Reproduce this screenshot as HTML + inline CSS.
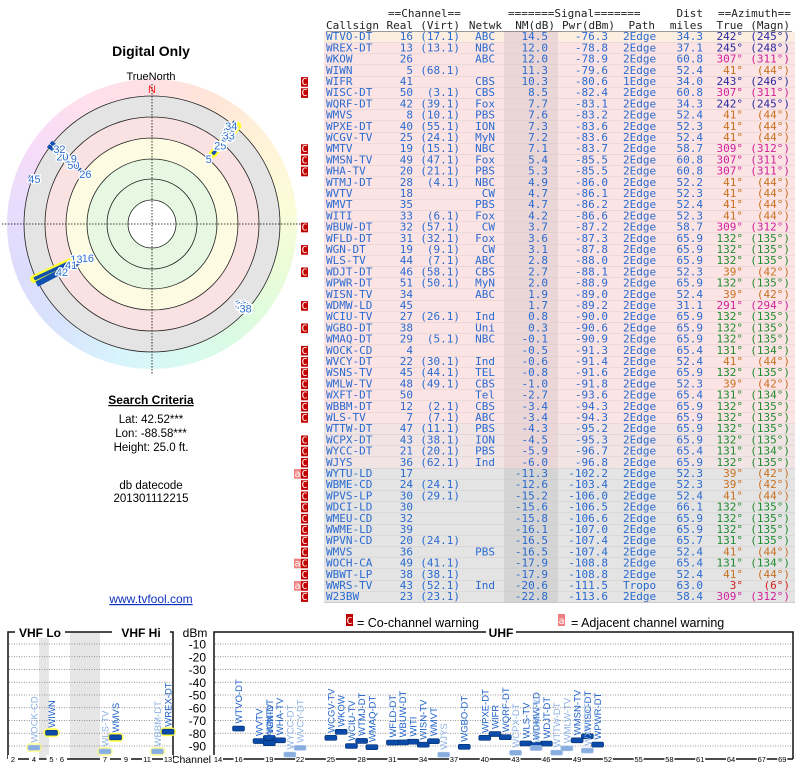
<!DOCTYPE html>
<html><head><meta charset="utf-8">
<style>
body{margin:0;background:#fff;width:800px;height:768px;overflow:hidden;position:relative;font-family:"Liberation Sans",sans-serif}
#wheel{position:absolute;left:7px;top:79px;width:290px;height:290px;border-radius:50%;
background:conic-gradient(from 0deg,#ffe0e4,#ffe6d8,#fff4d8,#fbfcd8,#eafcd8,#dcfbe0,#d8faf0,#d8f4fc,#d8e4fc,#dcdcfc,#e8dcfc,#f8dcf8,#ffe0ec,#ffe0e4)}
svg{position:absolute;left:0;top:0}
</style></head><body>
<div id="wheel"></div>
<svg id="s" width="800" height="768" font-family="Liberation Sans, sans-serif">
<g id="left">
<text x="151" y="56" text-anchor="middle" font-size="14" font-weight="bold">Digital Only</text>
<text x="151" y="80" text-anchor="middle" font-size="11">TrueNorth</text>
<text x="151" y="404" text-anchor="middle" font-size="12" font-weight="bold" text-decoration="underline">Search Criteria</text>
<text x="151" y="423" text-anchor="middle" font-size="11.5">Lat: 42.52***</text>
<text x="151" y="437" text-anchor="middle" font-size="11.5">Lon: -88.58***</text>
<text x="151" y="451" text-anchor="middle" font-size="11.5">Height: 25.0 ft.</text>
<text x="151" y="489" text-anchor="middle" font-size="11.5">db datecode</text>
<text x="151" y="502" text-anchor="middle" font-size="11.5">201301112215</text>
<text x="151" y="603" text-anchor="middle" font-size="12" fill="#1030c0" text-decoration="underline">www.tvfool.com</text>
</g>
<g id="radar"></g>
<g id="table" font-family="DejaVu Sans Mono, Liberation Mono, monospace" font-size="11"></g>
<g id="spec"></g>
</svg>
<script>
const calls=["WTVO-DT","WREX-DT","WKOW","WIWN","WIFR","WISC-DT","WQRF-DT","WMVS","WPXE-DT","WCGV-TV","WMTV","WMSN-TV","WHA-TV","WTMJ-DT","WVTV","WMVT","WITI","WBUW-DT","WFLD-DT","WGN-DT","WLS-TV","WDJT-DT","WPWR-DT","WISN-TV","WDMW-LD","WCIU-TV","WGBO-DT","WMAQ-DT","WOCK-CD","WVCY-DT","WSNS-TV","WMLW-TV","WXFT-DT","WBBM-DT","WLS-TV","WTTW-DT","WCPX-DT","WYCC-DT","WJYS","WYTU-LD","WBME-CD","WPVS-LP","WDCI-LD","WMEU-CD","WWME-LD","WPVN-CD","WMVS","WOCH-CA","WBWT-LP","WWRS-TV","W23BW"];
const realCh=[16,13,26,5,41,50,42,8,40,25,19,49,20,28,18,35,33,32,31,19,44,46,51,34,45,27,38,29,4,22,45,48,50,12,7,47,43,21,36,17,24,30,30,32,39,20,36,49,38,43,23];
const virt=["17.1","13.1","","68.1","","3.1","39.1","10.1","55.1","24.1","15.1","47.1","21.1","4.1","","","6.1","57.1","32.1","9.1","7.1","58.1","50.1","","","26.1","","5.1","","30.1","44.1","49.1","","2.1","7.1","11.1","38.1","20.1","62.1","","24.1","29.1","","","","24.1","","41.1","38.1","52.1","23.1"];
const netwk=["ABC","NBC","ABC","","CBS","CBS","Fox","PBS","ION","MyN","NBC","Fox","PBS","NBC","CW","PBS","Fox","CW","Fox","CW","ABC","CBS","MyN","ABC","","Ind","Uni","NBC","","Ind","TEL","CBS","Tel","CBS","ABC","PBS","ION","PBS","Ind","","","","","","","","PBS","","","Ind",""];
const nm=[14.5,12.0,12.0,11.3,10.3,8.5,7.7,7.6,7.3,7.2,7.1,5.4,5.3,4.9,4.7,4.7,4.2,3.7,3.6,3.1,2.8,2.7,2.0,1.9,1.7,0.8,0.3,-0.1,-0.5,-0.6,-0.8,-1.0,-2.7,-3.4,-3.4,-4.3,-4.5,-5.9,-6.0,-11.3,-12.6,-15.2,-15.6,-15.8,-16.1,-16.5,-16.5,-17.9,-17.9,-20.6,-22.8];
const pwr=[-76.3,-78.8,-78.9,-79.6,-80.6,-82.4,-83.1,-83.2,-83.6,-83.6,-83.7,-85.5,-85.5,-86.0,-86.1,-86.2,-86.6,-87.2,-87.3,-87.8,-88.0,-88.1,-88.9,-89.0,-89.2,-90.0,-90.6,-90.9,-91.3,-91.4,-91.6,-91.8,-93.6,-94.3,-94.3,-95.2,-95.3,-96.7,-96.8,-102.2,-103.4,-106.0,-106.5,-106.6,-107.0,-107.4,-107.4,-108.8,-108.8,-111.5,-113.6];
const pathT=["2Edge","2Edge","2Edge","2Edge","1Edge","2Edge","2Edge","2Edge","2Edge","2Edge","2Edge","2Edge","2Edge","2Edge","2Edge","2Edge","2Edge","2Edge","2Edge","2Edge","2Edge","2Edge","2Edge","2Edge","2Edge","2Edge","2Edge","2Edge","2Edge","2Edge","2Edge","2Edge","2Edge","2Edge","2Edge","2Edge","2Edge","2Edge","2Edge","2Edge","2Edge","2Edge","2Edge","2Edge","2Edge","2Edge","2Edge","2Edge","2Edge","Tropo","2Edge"];
const dist=[34.3,37.1,60.8,52.4,34.0,60.8,34.3,52.4,52.3,52.4,58.7,60.8,60.8,52.2,52.3,52.4,52.3,58.7,65.9,65.9,65.9,52.3,65.9,52.4,31.1,65.9,65.9,65.9,65.4,52.4,65.9,52.3,65.4,65.9,65.9,65.9,65.9,65.4,65.9,52.3,52.3,52.4,66.1,65.9,65.9,65.7,52.4,65.4,52.4,63.0,58.4];
const azTrue=[242,245,307,41,243,307,242,41,41,41,309,307,307,41,41,41,41,309,132,132,132,39,132,39,291,132,132,132,131,41,132,39,131,132,132,132,132,131,132,39,39,41,132,132,132,131,41,131,41,3,309];
const azMagn=[245,248,311,44,246,311,245,44,44,44,312,311,311,44,44,44,44,312,135,135,135,42,135,42,294,135,135,135,134,44,135,42,134,135,135,135,135,134,135,42,42,44,135,135,135,135,44,134,44,6,312];
const warn=["","","","","C","C","","","","","C","C","C","","","","","C","","C","","C","","","C","","C","","C","C","C","C","C","C","C","","C","C","C","aC","C","C","C","C","C","C","C","aC","C","aC","C"];
const dbTicks=[-10,-20,-30,-40,-50,-60,-70,-80,-90];
const vhfTicks=[2,4,5,6,7,9,11,13];
const uhfTicks=[14,16,19,22,25,28,31,34,37,40,43,46,49,52,55,58,61,64,67,69];

const NS="http://www.w3.org/2000/svg";
function mk(parent,tag,attrs,txt){const e=document.createElementNS(NS,tag);for(const k in attrs)e.setAttribute(k,attrs[k]);if(txt!==undefined)e.textContent=txt;parent.appendChild(e);return e;}
function azColor(a){if(a<20)return"#d02020";if(a<90)return"#c87020";if(a<200)return"#208a30";if(a<280)return"#2a2aa0";return"#d0209a";}

// ---------- radar ----------
const R=document.getElementById('radar');const cx=152,cy=224;
[[128,"#e4e4e4"],[107,"#fbe2e2"],[86,"#fdfbe2"],[65,"#e6f8e2"],[45,"#e6f8e2"],[24,"#ffffff"]].forEach(([r,f])=>{
 const c=mk(R,'circle',{cx:cx,cy:cy,r:r,fill:f,stroke:"#222","stroke-width":0.8});
 
 
});
const h1=mk(R,'line',{x1:cx-150,y1:cy,x2:cx+150,y2:cy,stroke:"#000","stroke-width":0.8,"stroke-dasharray":"1.5,1.5"});


const v1=mk(R,'line',{x1:cx,y1:cy-140,x2:cx,y2:cy+150,stroke:"#000","stroke-width":0.8,"stroke-dasharray":"1.5,1.5"});


const nl=mk(R,'text',{x:cx,y:cy-131,"text-anchor":"middle","font-size":11,fill:"#ff2020"},"N");


function rad(v){return Math.max(72,Math.min(126,135-4.3*v));}
function pt(a,r){const t=a*Math.PI/180;return[cx+r*Math.sin(t),cy-r*Math.cos(t)];}
for(let i=0;i<calls.length;i++){
 if(nm[i]<0)continue;
 const a=azTrue[i],rl=rad(nm[i]);const p1=pt(a,130),p2=pt(a,rl+6);
 if(realCh[i]<14){const hl=mk(R,'line',{x1:p1[0],y1:p1[1],x2:p2[0],y2:p2[1],stroke:"#ffff30","stroke-width":8,"stroke-linecap":"round"});
  
  }
 const ln=mk(R,'line',{x1:p1[0],y1:p1[1],x2:p2[0],y2:p2[1],stroke:"#1050b0","stroke-width":3.5});
 
 
 const lp=pt(a,rl);
 const lb=mk(R,'text',{x:lp[0],y:lp[1]+4,"text-anchor":"middle","font-size":11,fill:"#2a70d0",stroke:"#fff","stroke-width":2.5,"paint-order":"stroke"},String(realCh[i]));
 
 
}

// ---------- table ----------
const T=document.getElementById('table');
const hdr=[[388,17,"start","==Channel=="],[508,17,"start","=======Signal======="],[703,17,"end","Dist"],[718,17,"start","==Azimuth=="],
[326,29,"start","Callsign"],[413,29,"end","Real"],[460,29,"end","(Virt)"],[502,29,"end","Netwk"],[555,29,"end","NM(dB)"],[615,29,"end","Pwr(dBm)"],[655,29,"end","Path"],[703,29,"end","miles"],[743,29,"end","True"],[790,29,"end","(Magn)"]];
hdr.forEach(h=>{const t=mk(T,'text',{x:h[0],y:h[1],"text-anchor":h[2],fill:"#222"},h[3]);
 
 });
const ul=mk(T,'line',{x1:326,y1:31.5,x2:792,y2:31.5,stroke:"#444","stroke-width":1});


const RH=11.2,Y0=31.5;
for(let i=0;i<calls.length;i++){
 const y=Y0+i*RH;
 const bg=i===0?"#fdeee2":(i<35?"#fce4e4":(i<39?"#f1e4e4":"#e4e4e4"));
 const g=mk(T,'g',{});
 
 
 mk(g,'rect',{x:324,y:y,width:471,height:RH,fill:bg});
 mk(g,'rect',{x:504,y:y,width:54,height:RH,fill:i<39?"#ead6d6":"#d4d4d4"});
 mk(g,'line',{x1:324,y1:y+RH,x2:795,y2:y+RH,stroke:"#c8b8b8","stroke-width":0.6});
 const b=y+RH-2.5,col="#2a6ad0";
 if(warn[i].indexOf('C')>=0){const wc=mk(g,'rect',{x:301,y:y+0.8,width:7,height:RH-1.6,fill:"#c00000"});
  
  
  mk(g,'text',{x:304.5,y:b,"text-anchor":"middle",fill:"#fff","font-size":10},"C");}
 if(warn[i].indexOf('a')>=0){const wa=mk(g,'rect',{x:294,y:y+0.8,width:7,height:RH-1.6,fill:"#f08080"});
  
  
  mk(g,'text',{x:297.5,y:b,"text-anchor":"middle",fill:"#fff","font-size":10},"a");}
 const cells=[[326,"start",calls[i],col],[413,"end",String(realCh[i]),col],[460,"end",virt[i]?"("+virt[i]+")":"",col],[495,"end",netwk[i],col],
  [548,"end",nm[i].toFixed(1),col],[608,"end",pwr[i].toFixed(1),col],[623,"start",pathT[i],col],[703,"end",dist[i].toFixed(1),col],
  [743,"end",azTrue[i]+"°",azColor(azTrue[i])],[790,"end","("+azMagn[i]+"°)",azColor(azTrue[i])]];
 cells.forEach(c=>{if(c[2])mk(g,'text',{x:c[0],y:b,"text-anchor":c[1],fill:c[3]},c[2]);});
}

// ---------- spectrum ----------
const S=document.getElementById('spec');
const yTop=644,dy=1.275;
function yS(v){return yTop+(-10-v)*dy;}
function fc(ch){return ch<=4?57+(ch-2)*6:(ch<=6?79+(ch-5)*6:177+(ch-7)*6);}
function xV(ch){return ch<=6?13+(fc(ch)-57)*1.75:105+(fc(ch)-177)*1.75;}
function xU(ch){return 218+(ch-14)*10.26;}
function xC(ch){return ch<14?xV(ch):xU(ch);}
const lg1=mk(S,'g',{});


mk(lg1,'rect',{x:346,y:614,width:7,height:12,fill:"#c00000"});
mk(lg1,'text',{x:349.5,y:624,"text-anchor":"middle",fill:"#fff","font-size":10,"font-family":"DejaVu Sans Mono, monospace"},"C");
mk(lg1,'text',{x:357,y:627,"font-size":12.5},"= Co-channel warning");
const lg2=mk(S,'g',{});


mk(lg2,'rect',{x:558,y:614,width:7,height:12,fill:"#f08080"});
mk(lg2,'text',{x:561.5,y:624,"text-anchor":"middle",fill:"#fff","font-size":10,"font-family":"DejaVu Sans Mono, monospace"},"a");
mk(lg2,'text',{x:571,y:627,"font-size":12.5},"= Adjacent channel warning");
[[39,49],[70,100]].forEach(b=>{const r=mk(S,'rect',{x:b[0],y:632,width:b[1]-b[0],height:127,fill:"#e6e6e6"});
 
 });
const fr=[[8,632,173,759],[214,632,793,759]];
fr.forEach(f=>{const p=mk(S,'path',{d:`M${f[0]},${f[3]} V${f[1]} H${f[2]} V${f[3]}`,fill:"none",stroke:"#111","stroke-width":1.5});
 
 });
[[15,50,"VHF Lo"],[112,58,"VHF Hi"],[486,30,"UHF"]].forEach(t=>{mk(S,'rect',{x:t[0],y:626,width:t[1],height:12,fill:"#fff"});
 const tx=mk(S,'text',{x:t[0]+t[1]/2,y:637,"text-anchor":"middle","font-size":12,"font-weight":"bold"},t[2]);
 
 });
const du=mk(S,'text',{x:195,y:637,"text-anchor":"middle","font-size":12},"dBm");


dbTicks.forEach(v=>{const y=yS(v);
 [[9,172],[215,792]].forEach(s=>{const l=mk(S,'line',{x1:s[0],y1:y,x2:s[1],y2:y,stroke:"#777","stroke-width":0.7,"stroke-dasharray":"1,1.5"});
  
  });
 const t=mk(S,'text',{x:206,y:y+4.5,"text-anchor":"end","font-size":12},String(v));
 
 
});
[[8,173],[214,793]].forEach(s=>{const l=mk(S,'line',{x1:s[0],y1:759,x2:s[1],y2:759,stroke:"#111","stroke-width":1.5});
 
 });
const cl=mk(S,'text',{x:211,y:763,"text-anchor":"end","font-size":10.5},"Channel");


vhfTicks.concat(uhfTicks).forEach(ch=>{const x=xC(ch);
 mk(S,'rect',{x:x-5,y:755,width:10,height:9,fill:"#fff"});
 const t=mk(S,'text',{x:x,y:762,"text-anchor":"middle","font-size":7.5},String(ch));
 
 });
for(let i=0;i<calls.length;i++){
 if(pwr[i]<-100)continue;
 const ch=realCh[i],x=xC(ch),y=yS(pwr[i]);const strong=nm[i]>-0.2;
 if(ch<14){const h=mk(S,'rect',{x:x-8,y:y-4.5,width:16,height:9,rx:4.5,fill:"#ffff50",opacity:strong?1:0.6});
  
  }
 const m=mk(S,'rect',{x:x-6,y:y-2.5,width:12,height:5,rx:1.5,fill:strong?"#0a4aa8":"#88aee0",stroke:strong?"#033070":"#aac4e8","stroke-width":0.6});
 
 
 const t=mk(S,'text',{x:0,y:0,transform:`translate(${x+3.5},${y-5}) rotate(-90)`,"font-size":9.5,fill:strong?"#1a5fc8":"#8ab0e4"},calls[i]);
 
 
}
</script>
</body></html>
